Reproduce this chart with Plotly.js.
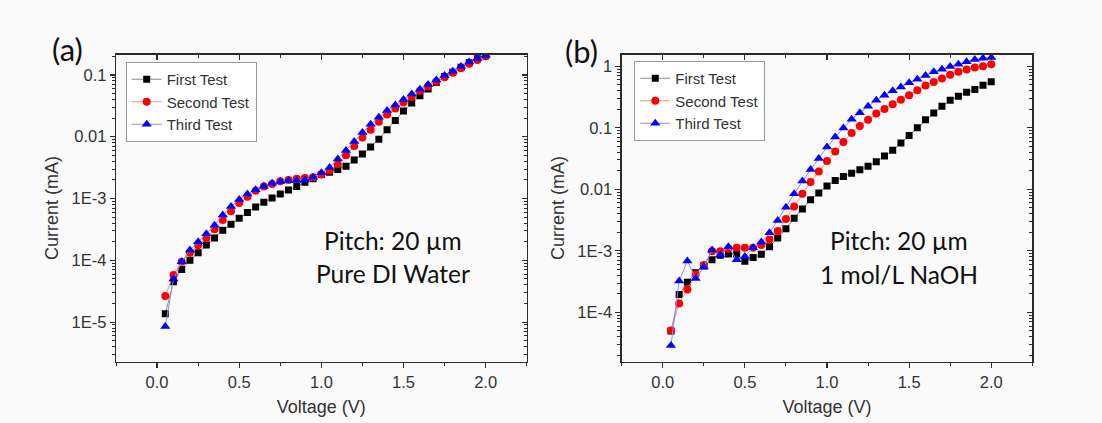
<!DOCTYPE html>
<html>
<head>
<meta charset="utf-8">
<script src="https://cdn.plot.ly/plotly-3.0.1.min.js"></script>
<style>html,body{margin:0;padding:0;background:#fafafa;}</style>
</head>
<body>
<div id="chart" style="width:1102px;height:423px;"></div>
<script>
// ---- data ----
const voltage = [0.05,0.10,0.15,0.20,0.25,0.30,0.35,0.40,0.45,0.50,0.55,0.60,0.65,0.70,0.75,0.80,0.85,0.90,0.95,1.00,
                 1.05,1.10,1.15,1.20,1.25,1.30,1.35,1.40,1.45,1.50,1.55,1.60,1.65,1.70,1.75,1.80,1.85,1.90,1.95,2.00];
const seriesNames = ["First Test", "Second Test", "Third Test"];

// Panel (a): Pure DI Water
const a_first  = [1.37e-5,4.5e-5,7.1e-5,1.0e-4,1.33e-4,1.77e-4,2.3e-4,3.07e-4,3.84e-4,4.8e-4,5.95e-4,7.3e-4,8.7e-4,1.02e-3,1.18e-3,1.37e-3,1.56e-3,1.83e-3,2.08e-3,2.45e-3,
                  2.67e-3,2.95e-3,3.34e-3,4.2e-3,5.25e-3,6.8e-3,9.1e-3,1.29e-2,1.83e-2,2.6e-2,3.5e-2,4.6e-2,5.9e-2,7.5e-2,9.4e-2,0.11,0.133,0.157,0.182,0.204];
const a_second = [2.65e-5,5.8e-5,9.5e-5,1.33e-4,1.75e-4,2.3e-4,3.18e-4,4.5e-4,6.25e-4,8.45e-4,1.07e-3,1.34e-3,1.56e-3,1.72e-3,1.9e-3,2.0e-3,2.08e-3,2.14e-3,2.2e-3,2.45e-3,
                  2.84e-3,3.6e-3,5.0e-3,7.1e-3,9.7e-3,1.3e-2,1.74e-2,2.29e-2,2.86e-2,3.59e-2,4.4e-2,5.5e-2,6.5e-2,7.8e-2,9.2e-2,0.108,0.128,0.151,0.174,0.2];
const a_third  = [8.5e-6,5.0e-5,9.5e-5,1.47e-4,2.0e-4,2.7e-4,3.7e-4,5.4e-4,7.45e-4,9.6e-4,1.18e-3,1.39e-3,1.58e-3,1.77e-3,1.88e-3,1.95e-3,1.95e-3,2.0e-3,2.2e-3,2.6e-3,
                  3.18e-3,4.35e-3,6.0e-3,8.4e-3,1.17e-2,1.59e-2,2.07e-2,2.66e-2,3.25e-2,4.0e-2,4.9e-2,5.84e-2,7.0e-2,8.3e-2,9.8e-2,0.115,0.137,0.162,0.185,0.206];

// Panel (b): 1 mol/L NaOH
const b_first  = [5.0e-5,1.95e-4,3.1e-4,4.4e-4,5.7e-4,7.2e-4,8.5e-4,8.9e-4,8.9e-4,6.8e-4,7.8e-4,8.8e-4,1.17e-3,1.62e-3,2.28e-3,3.4e-3,4.8e-3,6.75e-3,8.7e-3,1.13e-2,
                  1.39e-2,1.62e-2,1.83e-2,2.08e-2,2.36e-2,2.8e-2,3.47e-2,4.3e-2,5.65e-2,7.5e-2,0.1,0.135,0.174,0.223,0.28,0.325,0.377,0.42,0.49,0.56];
const b_second = [5.1e-5,1.4e-4,2.35e-4,4.15e-4,5.9e-4,9.9e-4,9.9e-4,1.08e-3,1.12e-3,1.12e-3,1.12e-3,1.25e-3,1.53e-3,2.1e-3,3.3e-3,5.25e-3,8.45e-3,1.31e-2,1.95e-2,2.88e-2,
                  4.13e-2,5.86e-2,8.2e-2,0.107,0.135,0.17,0.202,0.24,0.286,0.337,0.407,0.484,0.556,0.63,0.723,0.81,0.88,0.95,1.0,1.08];
const b_third  = [2.9e-5,3.25e-4,6.85e-4,3.55e-4,5.45e-4,1.03e-3,8.6e-4,1.17e-3,7.2e-4,8.1e-4,1.12e-3,1.4e-3,1.97e-3,3.11e-3,5.13e-3,8.45e-3,1.36e-2,2.1e-2,3.18e-2,4.86e-2,
                  7.07e-2,9.9e-2,0.137,0.176,0.223,0.28,0.337,0.4,0.46,0.536,0.614,0.705,0.81,0.894,0.99,1.08,1.18,1.28,1.35,1.38];

// tick labels
const a_tickvals = [1e-5, 1e-4, 1e-3, 1e-2, 1e-1];
const a_ticktext = ["1E-5", "1E-4", "1E-3", "0.01", "0.1"];
const b_tickvals = [1e-4, 1e-3, 1e-2, 1e-1, 1];
const b_ticktext = ["1E-4", "1E-3", "0.01", "0.1", "1"];
const xTickText = ["0.0", "0.5", "1.0", "1.5", "2.0"];
const xTickVals = [0, 0.5, 1.0, 1.5, 2.0];

// ---- styles ----
const styles = [
  {color: "#000000", line: "#8c8c8c", symbol: "square", size: 7},
  {color: "#ff0000", line: "#ff8a8a", symbol: "circle", size: 8},
  {color: "#0000ff", line: "#8a8aff", symbol: "triangle-up", size: 9}
];
const axisColor = "#2b2b2b";
const tickFont = {family: "Liberation Sans, Arial, sans-serif", size: 16.5, color: "#333"};
const titleFont = {family: "Liberation Sans, Arial, sans-serif", size: 18, color: "#333"};

const minorLog = [];
for (let e = -7; e <= 1; e++) for (let d = 2; d <= 9; d++) minorLog.push(d * Math.pow(10, e));

function mk(y, i, xa, ya, leg) {
  const s = styles[i];
  return {
    x: voltage, y: y, name: seriesNames[i], type: "scatter", mode: "lines+markers",
    xaxis: xa, yaxis: ya, legend: leg, showlegend: true,
    line: {color: s.line, width: 1},
    marker: {symbol: s.symbol, size: s.size, color: s.color, line: {width: 0}}
  };
}
// empty helper traces so the mirrored frame axes (top / right) get drawn
function frameOnly(xa, ya) {
  return {x: [], y: [], xaxis: xa, yaxis: ya, type: "scatter", mode: "markers", showlegend: false, hoverinfo: "skip"};
}

const data = [
  mk(a_first, 0, "x", "y", "legend"), mk(a_second, 1, "x", "y", "legend"), mk(a_third, 2, "x", "y", "legend"),
  mk(b_first, 0, "x2", "y2", "legend2"), mk(b_second, 1, "x2", "y2", "legend2"), mk(b_third, 2, "x2", "y2", "legend2"),
  frameOnly("x3", "y"), frameOnly("x", "y3"), frameOnly("x4", "y2"), frameOnly("x2", "y4")
];

const W = 1102, H = 423;
const aX = [116 / W, 526.7 / W], bX = [621.7 / W, 1032.3 / W];
const yDom = [1 - 361.7 / H, 1 - 54.5 / H];
const xRange = [-0.25, 2.25];

function xBase(dom, anchor) {
  return {
    domain: dom, anchor: anchor, range: xRange, showgrid: false, zeroline: false,
    showline: true, linecolor: axisColor, linewidth: 1.3,
    ticks: "outside", ticklen: 5, tickwidth: 1.2, tickcolor: axisColor,
    tickmode: "array", tickvals: xTickVals, ticktext: xTickText, tickfont: tickFont,
    minor: {ticks: "outside", ticklen: 3, tickwidth: 1, tickcolor: axisColor, dtick: 0.25, tick0: 0, showgrid: false},
    title: {text: "Voltage (V)", font: titleFont, standoff: 10}
  };
}
function xTop(over, anchor) {
  return {
    overlaying: over, anchor: anchor, side: "top", range: xRange, showgrid: false, zeroline: false,
    showline: true, linecolor: axisColor, linewidth: 1.3,
    ticks: "inside", ticklen: 5, tickwidth: 1.2, tickcolor: axisColor,
    tickmode: "array", tickvals: xTickVals, showticklabels: false,
    minor: {ticks: "inside", ticklen: 3, tickwidth: 1, tickcolor: axisColor, dtick: 0.25, tick0: 0, showgrid: false}
  };
}
function yBase(anchor, range, tv, tt) {
  return {
    domain: yDom, anchor: anchor, type: "log", range: range, showgrid: false, zeroline: false,
    showline: true, linecolor: axisColor, linewidth: 1.3,
    ticks: "outside", ticklen: 5, tickwidth: 1.2, tickcolor: axisColor,
    tickmode: "array", tickvals: tv, ticktext: tt, tickfont: tickFont,
    minor: {ticks: "outside", ticklen: 3, tickwidth: 1, tickcolor: axisColor, tickmode: "array", tickvals: minorLog, showgrid: false},
    title: {text: "Current (mA)", font: titleFont, standoff: 8}
  };
}
function yRight(over, anchor, range, tv) {
  return {
    overlaying: over, anchor: anchor, side: "right", type: "log", range: range, showgrid: false, zeroline: false,
    showline: true, linecolor: axisColor, linewidth: 1.3,
    ticks: "inside", ticklen: 5, tickwidth: 1.2, tickcolor: axisColor,
    tickmode: "array", tickvals: tv, showticklabels: false,
    minor: {ticks: "inside", ticklen: 3, tickwidth: 1, tickcolor: axisColor, tickmode: "array", tickvals: minorLog, showgrid: false}
  };
}

const aRange = [-5.64, -0.67];
const bRange = [-4.8, 0.19];

const legendStyle = {
  bgcolor: "rgba(255,255,255,0.9)", bordercolor: "#9a9a9a", borderwidth: 1,
  font: {family: "Liberation Sans, Arial, sans-serif", size: 15, color: "#333"},
  xanchor: "left", yanchor: "top", tracegroupgap: 0, itemwidth: 30
};

const annFont = {family: "Lato, 'Open Sans', sans-serif", size: 24.5, color: "#111"};
function ann(text, x, y, font) {
  return {text: text, xref: "paper", yref: "paper", x: x / W, y: 1 - y / H, xanchor: "center", yanchor: "middle",
          showarrow: false, font: font};
}
const labFont = {family: "Lato, sans-serif", size: 31, color: "#111"};

const layout = {
  width: W, height: H, margin: {l: 0, r: 0, t: 0, b: 0},
  paper_bgcolor: "#fafafa", plot_bgcolor: "#fafafa",
  xaxis: xBase(aX, "y"), yaxis: yBase("x", aRange, a_tickvals, a_ticktext),
  xaxis2: xBase(bX, "y2"), yaxis2: yBase("x2", bRange, b_tickvals, b_ticktext),
  xaxis3: xTop("x", "y"), yaxis3: yRight("y", "x", aRange, a_tickvals),
  xaxis4: xTop("x2", "y2"), yaxis4: yRight("y2", "x2", bRange, b_tickvals),
  legend: Object.assign({x: 125.7 / W, y: 1 - 62 / H}, legendStyle),
  legend2: Object.assign({x: 634.3 / W, y: 1 - 61 / H}, legendStyle),
  annotations: [
    ann("(a)", 67.5, 49, labFont),
    ann("(b)", 581, 50.7, labFont),
    ann("Pitch: 20 µm", 393, 240.7, annFont),
    ann("Pure DI Water", 393, 273.3, annFont),
    ann("Pitch: 20 µm", 899, 240, annFont),
    ann("1 mol/L NaOH", 899, 274, annFont)
  ]
};

Plotly.newPlot("chart", data, layout, {displayModeBar: false, staticPlot: true});
</script>
</body>
</html>
